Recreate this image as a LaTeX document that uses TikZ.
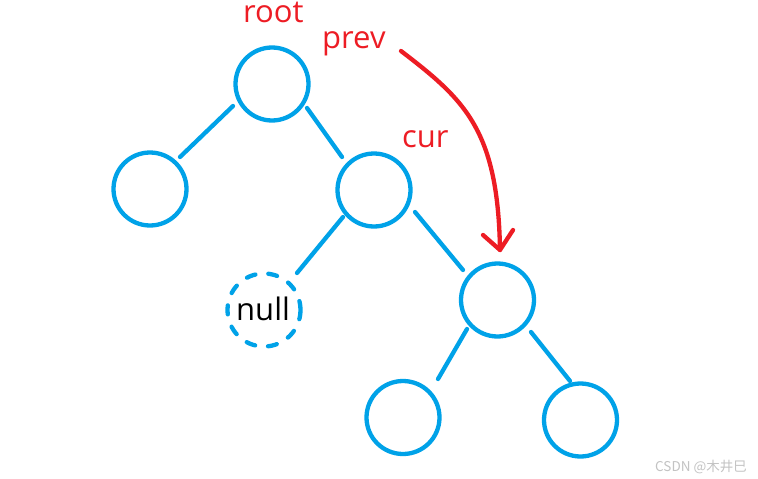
\documentclass[tikz,border=0pt]{standalone}
\usepackage{fontspec}
\setmainfont{Open Sans}
\newfontfamily\cjk{Noto Sans CJK SC}
\usetikzlibrary{calc}
\definecolor{tblue}{HTML}{00A2E8}
\definecolor{tred}{HTML}{ED1C24}
\definecolor{wmgray}{HTML}{C3C3C3}
\begin{document}
\begin{tikzpicture}[x=1pt,y=-1pt,
  tnode/.style={circle,draw=tblue,line width=4.3pt,minimum size=73pt,inner sep=0pt},
  nullnode/.style={tnode,dash pattern=on 9pt off 13pt,line cap=round},
  tedge/.style={draw=tblue,line width=4.3pt,line cap=round},
  lbl/.style={text=tred,font=\fontsize{31}{36}\selectfont,anchor=base west,inner sep=0pt},
  redline/.style={draw=tred,line width=4.3pt,line cap=round,line join=round}]
\fill[white] (0,0) rectangle (758,479);
\useasboundingbox (0,0) rectangle (758,479);
% nodes
\node[tnode] (root) at (272,84) {};
\node[tnode] (left) at (150,189) {};
\node[tnode] (cur) at (374,190) {};
\node[nullnode] (null) at (264,310) {};
\node[tnode] (n5) at (497.5,300) {};
\node[tnode] (bl) at (403,417.5) {};
\node[tnode] (br) at (580.5,420) {};
% edges
\draw[tedge] ($(root)+(-39,22)$) -- ($(left)+(30,-32)$);
\draw[tedge] ($(root)+(35,24)$) -- ($(cur)+(-32,-33)$);
\draw[tedge] ($(cur)+(-31,27)$) -- ($(null)+(33,-37)$);
\draw[tedge] ($(cur)+(41,22)$) -- ($(n5)+(-34.5,-30)$);
\draw[tedge] ($(n5)+(-30.5,29)$) -- ($(bl)+(35,-38.5)$);
\draw[tedge] ($(n5)+(33.5,32)$) -- ($(br)+(-10.5,-39)$);
% labels
\node[lbl] (rootlbl) at (243,23) {root};
\node[lbl] (prevlbl) at (322,48) {prev};
\node[lbl] (curlbl) at (402,147) {cur};
\node[lbl,text=black] (nulllbl) at (236,320) {null};
% arrow
\coordinate (astart) at (401,51);
\coordinate (tip) at (500,250);
\draw[redline] (astart) .. controls (465,100) and (498,130) .. (tip);
\draw[redline] ($(tip)+(-17,-15)$) -- (tip) -- ($(tip)+(13,-20)$);
% watermark
\node[text=wmgray,font=\cjk\fontsize{13.5}{15}\selectfont,anchor=base west,inner sep=0pt] (wm) at (655,471) {CSDN @木井巳};
\end{tikzpicture}
\end{document}
